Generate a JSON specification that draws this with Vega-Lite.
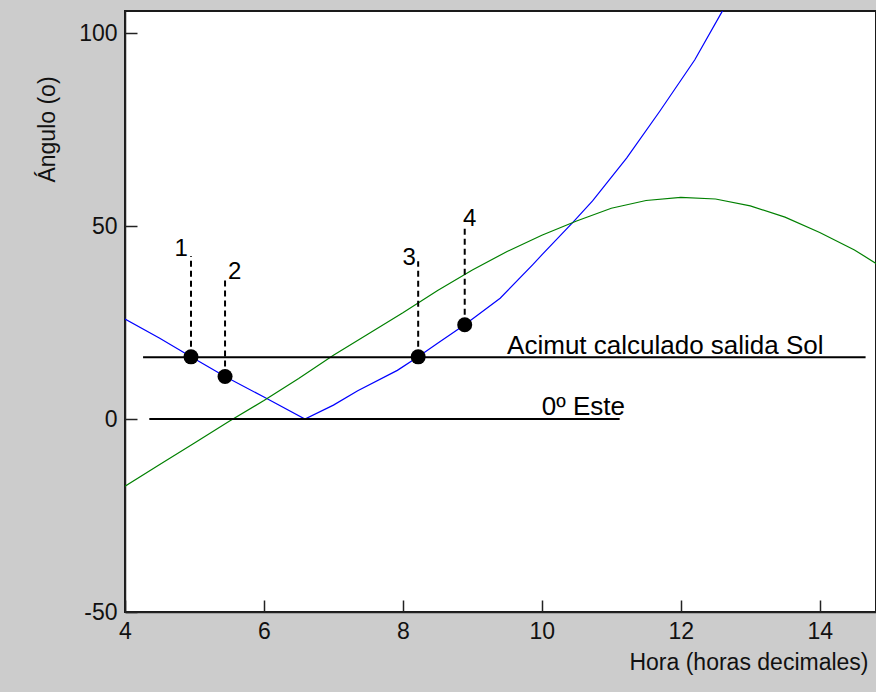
{
  "$schema": "https://vega.github.io/schema/vega-lite/v6.json",
  "width": 751,
  "height": 601,
  "autosize": {"type": "none"},
  "padding": {"left": 125, "top": 11, "right": 0, "bottom": 80},
  "background": "#cccccc",
  "config": {
    "view": {"fill": "white", "stroke": "#1a1a1a", "strokeWidth": 2},
    "font": "Liberation Sans",
    "axis": {"grid": false, "labelFlush": false, "labelOverlap": false, "labelFont": "Liberation Sans", "titleFont": "Liberation Sans", "labelColor": "#111111", "titleColor": "#111111", "titleFontWeight": "normal", "labelFontSize": 23, "titleFontSize": 23, "domainColor": "#222222", "tickColor": "#222222", "domainWidth": 1.5, "tickWidth": 1.5}
  },
  "datasets": {
    "blue": [
      {"h": 4.0, "v": 25.9}, {"h": 4.5, "v": 20.9}, {"h": 4.95, "v": 16.1}, {"h": 5.44, "v": 11.0},
      {"h": 6.0, "v": 5.7}, {"h": 6.59, "v": 0}, {"h": 7.0, "v": 3.6}, {"h": 7.35, "v": 7.3},
      {"h": 7.92, "v": 12.6}, {"h": 8.22, "v": 16.1}, {"h": 8.5, "v": 19.6}, {"h": 8.89, "v": 24.4},
      {"h": 9.4, "v": 31.3}, {"h": 9.87, "v": 40.0}, {"h": 10.0, "v": 42.5}, {"h": 10.45, "v": 51.0},
      {"h": 10.73, "v": 56.5}, {"h": 11.22, "v": 67.6}, {"h": 11.7, "v": 79.8}, {"h": 12.2, "v": 93.0},
      {"h": 12.59, "v": 105.4}, {"h": 12.8, "v": 111.0}
    ],
    "green": [
      {"h": 4.0, "v": -17.4}, {"h": 4.5, "v": -11.8}, {"h": 5.0, "v": -6.2}, {"h": 5.5, "v": -0.6},
      {"h": 6.0, "v": 4.8}, {"h": 6.5, "v": 10.5}, {"h": 7.0, "v": 16.5}, {"h": 7.5, "v": 22.0},
      {"h": 8.0, "v": 27.5}, {"h": 8.5, "v": 33.3}, {"h": 9.0, "v": 38.6}, {"h": 9.5, "v": 43.4},
      {"h": 10.0, "v": 47.6}, {"h": 10.5, "v": 51.3}, {"h": 11.0, "v": 54.6}, {"h": 11.5, "v": 56.6},
      {"h": 12.0, "v": 57.4}, {"h": 12.5, "v": 57.0}, {"h": 13.0, "v": 55.2}, {"h": 13.5, "v": 52.3},
      {"h": 14.0, "v": 48.3}, {"h": 14.5, "v": 43.8}, {"h": 14.81, "v": 40.3}, {"h": 15.0, "v": 38.0}
    ],
    "hlines": [
      {"h": 4.26, "h2": 14.66, "v": 16.0},
      {"h": 4.35, "h2": 11.12, "v": 0}
    ],
    "markers": [
      {"id": "1", "h": 4.95, "v": 16.1, "v2": 42.2},
      {"id": "2", "h": 5.44, "v": 11.0, "v2": 36.3},
      {"id": "3", "h": 8.22, "v": 16.1, "v2": 40.9},
      {"id": "4", "h": 8.89, "v": 24.4, "v2": 49.5}
    ],
    "numlabels": [
      {"t": "1", "h": 4.81, "v": 44.0},
      {"t": "2", "h": 5.58, "v": 38.1},
      {"t": "3", "h": 8.09, "v": 41.7},
      {"t": "4", "h": 8.96, "v": 51.8}
    ],
    "linelabels": [
      {"t": "Acimut calculado salida Sol", "h": 9.5, "v": 16.8},
      {"t": "0º Este", "h": 10.0, "v": 1.0}
    ]
  },
  "encoding": {
    "x": {
      "field": "h", "type": "quantitative",
      "scale": {"domain": [4, 14.81], "nice": false, "zero": false},
      "axis": {"values": [4, 6, 8, 10, 12, 14], "tickSize": -12, "labelPadding": 20, "title": "Hora (horas decimales)", "titleAnchor": "end", "titleAlign": "right", "titleX": 743, "titleY": 50, "titleBaseline": "middle"}
    },
    "y": {
      "field": "v", "type": "quantitative",
      "scale": {"domain": [-50, 105.7], "nice": false, "zero": false},
      "axis": {"values": [-50, 0, 50, 100], "tickSize": -12, "labelPadding": 20, "labelExpr": "replace(datum.label, '\u2212', '-')", "title": "Ángulo (o)", "titleX": -78, "titleY": 118, "titleAngle": 270, "titleAlign": "center", "titleBaseline": "middle"}
    }
  },
  "layer": [
    {"data": {"name": "blue"}, "mark": {"type": "line", "color": "#0000ff", "strokeWidth": 1.2, "clip": true}},
    {"data": {"name": "green"}, "mark": {"type": "line", "color": "#008000", "strokeWidth": 1.2, "clip": true}},
    {"data": {"name": "hlines"}, "mark": {"type": "rule", "color": "black", "strokeWidth": 2}, "encoding": {"x2": {"field": "h2"}}},
    {"data": {"name": "markers"}, "mark": {"type": "rule", "color": "black", "strokeWidth": 2, "strokeDash": [6, 4]}, "encoding": {"y2": {"field": "v2"}}},
    {"data": {"name": "markers"}, "mark": {"type": "point", "shape": "circle", "filled": true, "color": "black", "size": 225, "opacity": 1}},
    {"data": {"name": "numlabels"}, "mark": {"type": "text", "fontSize": 24, "align": "center", "baseline": "middle", "color": "black"}, "encoding": {"text": {"field": "t"}}},
    {"data": {"name": "linelabels"}, "mark": {"type": "text", "fontSize": 26, "align": "left", "baseline": "alphabetic", "color": "black"}, "encoding": {"text": {"field": "t"}}}
  ]
}
